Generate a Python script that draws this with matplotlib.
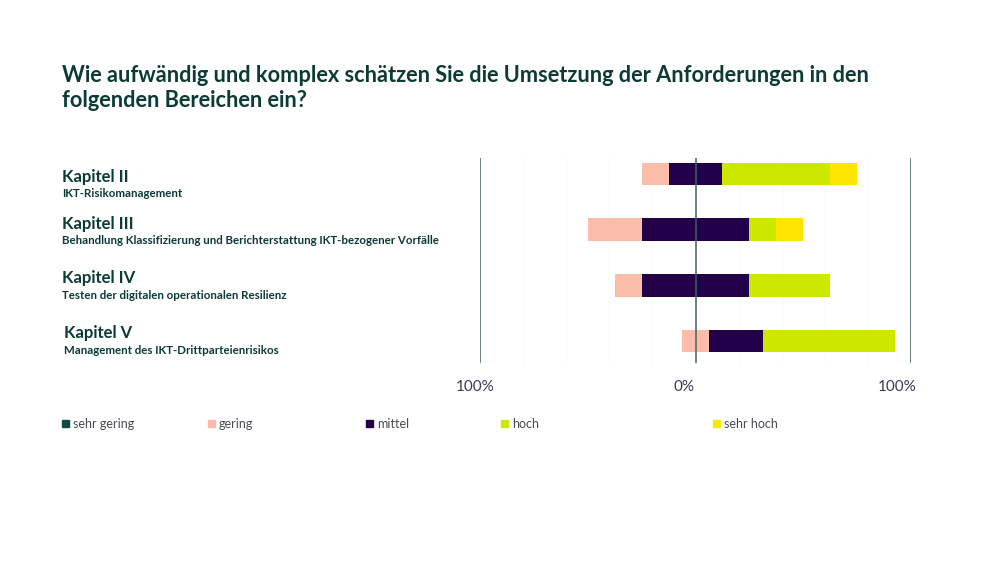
"""Diverging stacked bars: Aufwand/Komplexitaet je DORA-Kapitel."""
import matplotlib

matplotlib.use("Agg")
import matplotlib.pyplot as plt
from matplotlib.patches import Rectangle
from matplotlib.transforms import ScaledTranslation

plt.rcParams["font.family"] = ["Lato", "DejaVu Sans"]

TITLE = ("Wie aufwändig und komplex schätzen Sie die Umsetzung der Anforderungen in den\n"
         "folgenden Bereichen ein?")
chapters = ["Kapitel II", "Kapitel III", "Kapitel IV", "Kapitel V"]
subtitles = [
    "IKT-Risikomanagement",
    "Behandlung Klassifizierung und Berichterstattung IKT-bezogener Vorfälle",
    "Testen der digitalen operationalen Resilienz",
    "Management des IKT-Drittparteienrisikos",
]
levels = ["sehr gering", "gering", "mittel", "hoch", "sehr hoch"]
colors = ["#0e4a40", "#fbbcaa", "#22004a", "#cce800", "#ffe400"]

# shares in % per chapter, order as in `levels`
sehr_gering = [0.0, 0.0, 0.0, 0.0]
gering = [12.5, 25.0, 12.5, 12.5]
mittel = [25.0, 50.0, 50.0, 25.0]
hoch = [50.0, 12.5, 37.5, 61.5]
sehr_hoch = [12.5, 12.5, 0.0, 0.0]
# left edge of each bar
bar_start = [-25.0, -50.0, -37.5, -6.25]

tick_values = [-100, 0, 100]
tick_labels = ["100%", "0%", "100%"]

W, H = 1000, 563
fig = plt.figure(figsize=(W / 100, H / 100), dpi=100)


def fx(px):
    return px / W


def fy(py):
    return 1 - py / H


ax = fig.add_axes([fx(480), fy(363), fx(431), 205 / H])
ax.set_xlim(-100, 100)
ax.set_ylim(3.395, -0.287)

series = [sehr_gering, gering, mittel, hoch, sehr_hoch]
for i in range(len(chapters)):
    left = bar_start[i]
    for vals, col in zip(series, colors):
        if vals[i] > 0:
            ax.barh(i, vals[i], left=left, height=0.405, color=col, zorder=3)
        left += vals[i]

# faint grid + the three guide lines
for gx in range(-80, 100, 20):
    if gx != 0:
        ax.axvline(gx, color="#f9f9fb", lw=0.8, zorder=1)
for gx in tick_values:
    ax.axvline(gx, color="#3d6661", lw=1.1, zorder=4)

for s in ax.spines.values():
    s.set_visible(False)
ax.set_yticks([])
ax.set_xticks(tick_values)
ax.set_xticklabels(tick_labels, fontsize=11, color="#3a3a58")
ax.tick_params(axis="x", length=0, pad=12)
shifts = [-5, -11, -14]
for lab, dx in zip(ax.get_xticklabels(), shifts):
    lab.set_transform(lab.get_transform() + ScaledTranslation(dx / 100, 0, fig.dpi_scale_trans))

# title (baseline refers to the last line)
fig.text(fx(62), fy(107), TITLE, fontsize=15.7, fontweight="bold", color="#0c3a34",
         va="baseline", linespacing=1.25)

# row labels
head_base = [182, 229, 283, 338]
sub_base = [197, 244, 299, 354]
label_x = [62, 62, 62, 64]
for name, sub, hb, sb, lx in zip(chapters, subtitles, head_base, sub_base, label_x):
    fig.text(fx(lx), fy(hb), name, fontsize=12, fontweight="bold", color="#0c3a34",
             va="baseline")
    fig.text(fx(lx), fy(sb), sub, fontsize=8.3, fontweight="bold", color="#0c3a34",
             va="baseline")

# legend
legend_x = [62, 208, 366, 501, 713]
for name, col, lx in zip(levels, colors, legend_x):
    fig.patches.append(Rectangle((fx(lx), fy(427)), fx(7), 7 / H, color=col,
                                 transform=fig.transFigure, figure=fig))
    fig.text(fx(lx + 11), fy(423.5), name, fontsize=9, color="#4a4a55", va="center")

fig.savefig("out.png", dpi=100, facecolor="white")
